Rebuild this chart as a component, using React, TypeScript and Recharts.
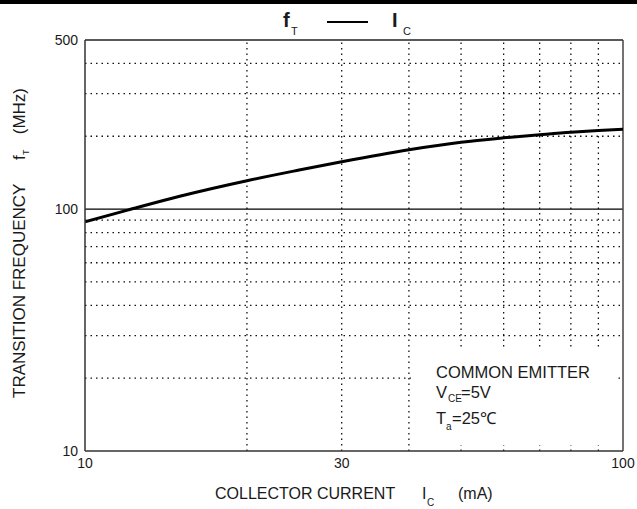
import { LineChart, Line, XAxis, YAxis, ReferenceLine } from 'recharts';

// collector current (mA) and transition frequency (MHz)
const currentMA = [10, 12, 15, 20, 25, 30, 40, 50, 60, 70, 80, 90, 100];
const ftMHz = [88.6, 99, 113, 131, 145, 157, 176, 189, 197, 203, 208, 211.5, 214];

const xTicks = [10, 30, 100];
const yTicks = [10, 100, 500];
const xGrid = [20, 30, 40, 50, 60, 70, 80, 90];
const yGrid = [20, 30, 40, 50, 60, 70, 80, 90, 200, 300, 400];

const data = currentMA.map((i, k) => ({ i, ft: ftMHz[k] }));

const FONT = '"Liberation Sans", Arial, sans-serif';
const INK = '#1a1a1a';

const Overlay = () => (
  <svg
    width={637}
    height={509}
    style={{ position: 'absolute', top: 0, left: 0, pointerEvents: 'none' }}
    fontFamily={FONT}
    fill={INK}
  >
    <rect x={0} y={0} width={637} height={4} fill="#000" />

    {/* title */}
    <text x={283} y={27} fontSize={20} fontWeight="bold">f</text>
    <text x={291} y={35} fontSize={11}>T</text>
    <line x1={327} x2={368} y1={22} y2={22} stroke="#000" strokeWidth={2} />
    <text x={392} y={27} fontSize={20} fontWeight="bold">I</text>
    <text x={403} y={35} fontSize={11}>C</text>

    {/* conditions box, blanks the grid behind the text */}
    <rect x={411} y={348} width={206} height={97} fill="#fff" />
    <text x={436} y={378} fontSize={16.5}>COMMON EMITTER</text>
    <text x={436} y={398} fontSize={16.5}>V</text>
    <text x={448} y={402} fontSize={10}>CE</text>
    <text x={461} y={398} fontSize={16.5}>=5V</text>
    <text x={436} y={424} fontSize={16.5}>T</text>
    <text x={446} y={430} fontSize={10}>a</text>
    <text x={452} y={424} fontSize={16.5}>=25℃</text>

    {/* x axis title */}
    <text x={215} y={499} fontSize={16}>COLLECTOR CURRENT</text>
    <text x={422} y={499} fontSize={16}>I</text>
    <text x={427} y={506} fontSize={10}>C</text>
    <text x={458} y={499} fontSize={16}>(mA)</text>

    {/* y axis title */}
    <g transform="translate(25,0) rotate(-90)">
      <text x={-398} y={0} fontSize={17}>TRANSITION FREQUENCY</text>
      <text x={-160} y={0} fontSize={17}>f</text>
      <text x={-155} y={4} fontSize={9}>T</text>
      <text x={-88} y={0} fontSize={17} textAnchor="end">(MHz)</text>
    </g>
  </svg>
);

export default function App() {
  return (
    <div style={{ position: 'absolute', top: 0, left: 0, width: 637, height: 509, background: '#fff' }}>
      <LineChart
        width={637}
        height={509}
        data={data}
        margin={{ top: 40, right: 14, bottom: 28, left: 0 }}
      >
        <XAxis
          dataKey="i"
          type="number"
          scale="log"
          domain={[10, 100]}
          ticks={xTicks}
          allowDataOverflow
          height={30}
          tickSize={0}
          tickMargin={7}
          axisLine={{ stroke: '#333', strokeWidth: 1.5 }}
          tick={{ fontSize: 14, fill: INK, fontFamily: FONT }}
        />
        <YAxis
          type="number"
          scale="log"
          domain={[10, 500]}
          ticks={yTicks}
          allowDataOverflow
          width={85}
          tickSize={0}
          tickMargin={7}
          axisLine={{ stroke: '#333', strokeWidth: 1.5 }}
          tick={{ fontSize: 14, fill: INK, fontFamily: FONT }}
        />
        {xGrid.map((v) => (
          <ReferenceLine key={'x' + v} x={v} stroke="#111" strokeWidth={1.3} strokeDasharray="1.5 4" />
        ))}
        {yGrid.map((v) => (
          <ReferenceLine key={'y' + v} y={v} stroke="#111" strokeWidth={1.3} strokeDasharray="1.5 4" />
        ))}
        <ReferenceLine y={100} stroke="#000" strokeWidth={1.2} />
        <ReferenceLine y={500} stroke="#222" strokeWidth={1.5} />
        <ReferenceLine x={100} stroke="#444" strokeWidth={1.5} />
        <Line
          dataKey="ft"
          type="monotone"
          stroke="#000"
          strokeWidth={3}
          dot={false}
          isAnimationActive={false}
        />
      </LineChart>
      <Overlay />
    </div>
  );
}
